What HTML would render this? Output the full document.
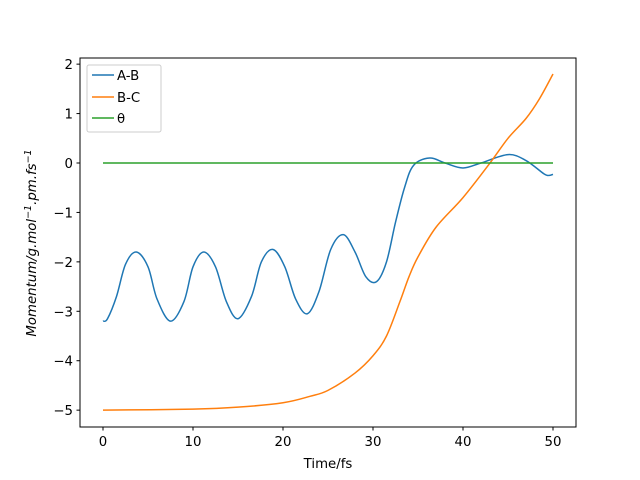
<!DOCTYPE html>
<html><head><meta charset="utf-8"><style>body{margin:0;background:#fff}svg{display:block}text{font-family:"DejaVu Sans","Liberation Sans",sans-serif;font-size:13.3px;fill:#000}</style></head>
<body>
<svg id="s" width="640" height="480" xmlns="http://www.w3.org/2000/svg">
<rect width="640" height="480" fill="#fff"/>
<g id="plot"></g>
<rect x="80" y="58" width="496" height="369" fill="none" stroke="#000" stroke-width="1"/>
<g id="ticks" stroke="#000"></g>
<g id="labels"></g>
<text x="328" y="468" text-anchor="middle">Time/fs</text>
<text transform="translate(36,243) rotate(-90)" text-anchor="middle" font-style="italic">Momentum/g.mol<tspan dy="-5" font-size="9.5">−1</tspan><tspan dy="5">.pm.fs</tspan><tspan dy="-5" font-size="9.5">−1</tspan></text>
<rect x="87" y="65" width="74" height="67" rx="2" fill="#fff" stroke="#ccc"/>
<line x1="92" y1="75" x2="114" y2="75" stroke="#1f77b4" stroke-width="1.5"/><text x="117" y="80">A-B</text>
<line x1="92" y1="97" x2="114" y2="97" stroke="#ff7f0e" stroke-width="1.5"/><text x="117" y="102">B-C</text>
<line x1="92" y1="118" x2="114" y2="118" stroke="#2ca02c" stroke-width="1.5"/><text x="117" y="123">θ</text>
</svg>
<script>
const X=t=>103+t*9, Y=v=>163-v*49.43;
const ab=[[0,-3.2],[0.5,-3.15],[1.5,-2.7],[2.5,-2.05],[3.7,-1.8],[5,-2.1],[6,-2.75],[7.5,-3.2],[9,-2.8],[10,-2.1],[11.2,-1.8],[12.5,-2.1],[13.7,-2.8],[15,-3.15],[16.5,-2.7],[17.6,-2.0],[18.9,-1.75],[20.2,-2.1],[21.4,-2.75],[22.7,-3.05],[24,-2.6],[25.3,-1.75],[26.7,-1.45],[28,-1.8],[29.2,-2.3],[30.4,-2.4],[31.5,-2.0],[32.5,-1.2],[33.5,-0.5],[34.5,-0.05],[36.3,0.1],[38,0],[40,-0.1],[42,0],[45,0.17],[47,0.05],[49,-0.22],[49.6,-0.25],[50,-0.23]];
const bc=[[0,-5],[10,-4.98],[15,-4.94],[20,-4.85],[23,-4.72],[25,-4.6],[28,-4.25],[30,-3.9],[31.5,-3.5],[33,-2.8],[34,-2.3],[35,-1.9],[37,-1.3],[40,-0.7],[43,0],[45,0.5],[47,0.9],[48.5,1.3],[50,1.8]];
function path(p){let d="";for(let i=0;i<p.length-1;i++){const p0=p[Math.max(0,i-1)],p1=p[i],p2=p[i+1],p3=p[Math.min(p.length-1,i+2)];
const a=[X(p0[0]),Y(p0[1])],b=[X(p1[0]),Y(p1[1])],c=[X(p2[0]),Y(p2[1])],e=[X(p3[0]),Y(p3[1])];
if(i==0)d+="M"+b[0]+","+b[1];
d+="C"+(b[0]+(c[0]-a[0])/6)+","+(b[1]+(c[1]-a[1])/6)+" "+(c[0]-(e[0]-b[0])/6)+","+(c[1]-(e[1]-b[1])/6)+" "+c[0]+","+c[1];}return d;}
const ns="http://www.w3.org/2000/svg";
function el(par,tag,at,txt){const e=document.createElementNS(ns,tag);for(const k in at)e.setAttribute(k,at[k]);if(txt!=null)e.textContent=txt;document.getElementById(par).appendChild(e);}
el("plot","path",{d:path(ab),fill:"none",stroke:"#1f77b4","stroke-width":1.5});
el("plot","path",{d:path(bc),fill:"none",stroke:"#ff7f0e","stroke-width":1.5});
el("plot","line",{x1:X(0),x2:X(50),y1:Y(0),y2:Y(0),stroke:"#2ca02c","stroke-width":1.5});
for(let t=0;t<=50;t+=10){el("ticks","line",{x1:X(t),x2:X(t),y1:427,y2:430.5});el("labels","text",{x:X(t),y:446,"text-anchor":"middle"},String(t));}
for(let v=-5;v<=2;v++){el("ticks","line",{x1:76.5,x2:80,y1:Y(v),y2:Y(v)});el("labels","text",{x:73,y:Y(v)+5,"text-anchor":"end"},v<0?"−"+(-v):String(v));}
</script>
</body></html>
